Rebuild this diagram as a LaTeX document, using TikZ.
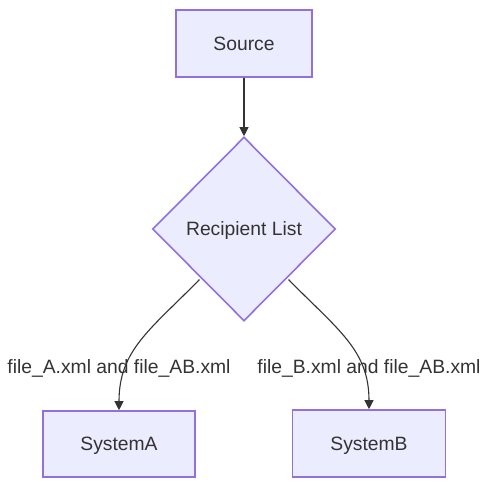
\documentclass[tikz,border=0pt]{standalone}
\usepackage{fontspec}
\setmainfont{Liberation Sans}
\usetikzlibrary{shapes.geometric,arrows.meta}
\definecolor{nodefill}{HTML}{ECECFF}
\definecolor{nodeline}{HTML}{9370DB}
\definecolor{txt}{HTML}{333333}
\begin{document}
\begin{tikzpicture}[x=1pt,y=-1pt,
  box/.style={draw=nodeline,fill=nodefill,line width=1.6pt,inner sep=0pt,text=txt,text depth=0pt,font=\fontsize{19.3}{23}\selectfont},
  conn/.style={draw=txt,line width=1.1pt,-{Triangle[length=9pt,width=9pt]}},
  lbl/.style={text=txt,text depth=0pt,font=\fontsize{19.3}{23}\selectfont,inner sep=0pt}]
\useasboundingbox (0,0) rectangle (493,491);
\node[box,minimum width=136pt,minimum height=67pt] (src) at (244,43.5) {Source};
\node[box,diamond,minimum width=183pt,minimum height=184pt] (rl) at (244,229) {Recipient List};
\node[box,minimum width=152pt,minimum height=66pt] (sa) at (119,444) {SystemA};
\node[box,minimum width=153pt,minimum height=67pt] (sb) at (369,443.5) {SystemB};
\coordinate (la) at (199.5,279.5);
\coordinate (lb) at (288.5,279.5);
\draw[conn] (src.south) -- (rl.north);
\draw[conn] (la) .. controls (150,330) and (119,350) .. (sa.north);
\draw[conn] (lb) .. controls (338,330) and (369,350) .. (sb.north);
\node[lbl] (ta) at (119,367) {file\_A.xml and file\_AB.xml};
\node[lbl] (tb) at (369,367) {file\_B.xml and file\_AB.xml};
\end{tikzpicture}
\end{document}
